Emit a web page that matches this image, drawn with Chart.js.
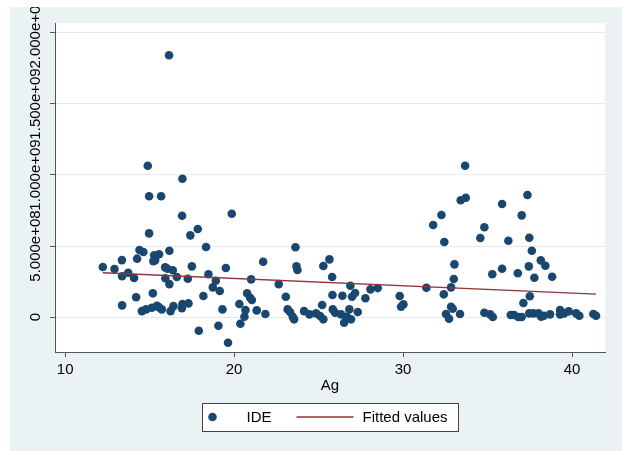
<!DOCTYPE html>
<html>
<head>
<meta charset="utf-8">
<script src="https://cdn.jsdelivr.net/npm/chart.js@4.4.1/dist/chart.umd.min.js"></script>
<style>
  html, body { margin: 0; padding: 0; background: #fff; }
  #wrap { width: 622px; height: 451px; }
</style>
</head>
<body>
<div id="wrap"><canvas id="chart" width="622" height="451"></canvas></div>
<script>
// Ag (x) and IDE (y) for each observation
const ageVals = [
  16.15, 14.89, 16.94, 14.97, 15.68, 19.86, 16.92, 14.97, 17.85, 17.41,
  18.34, 23.63, 14.40, 14.63, 16.17, 15.27, 15.56, 15.33, 15.22, 13.36,
  14.26, 12.23, 12.92, 13.73, 13.37, 14.08, 15.92, 16.05, 16.37, 17.50,
  15.93, 16.61, 17.26, 16.17, 18.48, 19.51, 18.92, 18.74, 19.15, 18.18,
  21.72, 23.69, 23.75, 21.01, 22.64, 25.64, 25.28, 25.80, 15.19, 14.20,
  13.37, 14.54, 14.79, 15.13, 15.43, 15.55, 15.72, 16.24, 16.41, 16.91,
  16.94, 17.30, 19.31, 19.07, 17.91, 20.37, 19.64, 20.31, 20.67, 20.61,
  20.77, 21.05, 20.95, 21.34, 21.85, 23.06, 23.17, 23.31, 23.47, 23.55,
  24.14, 24.46, 24.85, 25.09, 25.28, 25.21, 25.82, 25.84, 25.98, 26.33,
  26.51, 26.67, 26.82, 26.92, 27.32, 26.41, 26.88, 26.98, 27.16, 27.77,
  28.07, 28.50,
  33.67, 33.41, 33.71, 37.36, 35.86, 32.27, 37.02, 31.78, 34.81, 34.57,
  37.47, 32.44, 36.23, 37.62, 38.15, 38.42, 33.04, 37.44, 35.86, 35.28,
  36.79, 37.77, 38.82, 33.00, 32.84, 31.38, 32.41, 37.50, 37.12, 29.80,
  30.02, 29.88, 32.84, 32.94, 32.54, 32.72, 33.37, 34.81, 35.15, 35.31,
  36.37, 36.57, 36.82, 37.02, 37.47, 37.71, 38.01, 38.17, 38.33, 38.70,
  39.29, 39.29, 39.53, 39.80, 40.24, 40.43, 41.26, 41.42
];
const ideVals = [
  18.43e8, 10.65e8, 9.74e8, 8.50e8, 8.50e8, 7.27e8, 7.13e8, 5.89e8, 6.20e8, 5.75e8,
  4.93e8, 4.91e8, 4.72e8, 4.58e8, 4.67e8, 4.35e8, 4.42e8, 4.01e8, 3.94e8, 4.01e8,
  4.11e8, 3.52e8, 3.38e8, 3.12e8, 2.87e8, 2.75e8, 3.50e8, 3.40e8, 3.29e8, 3.57e8,
  2.73e8, 2.82e8, 2.70e8, 2.32e8, 3.01e8, 3.45e8, 2.56e8, 2.09e8, 1.83e8, 1.48e8,
  3.89e8, 3.57e8, 3.31e8, 2.65e8, 2.32e8, 4.06e8, 3.59e8, 2.82e8, 1.67e8, 1.39e8,
  0.82e8, 0.42e8, 0.54e8, 0.66e8, 0.80e8, 0.70e8, 0.54e8, 0.42e8, 0.77e8, 0.63e8,
  0.92e8, 0.96e8, 0.54e8, -0.61e8, -0.96e8, -0.47e8, -1.81e8, 0.92e8, 0.49e8, 0.02e8,
  1.67e8, 1.20e8, 1.36e8, 0.47e8, 0.21e8, 1.43e8, 0.54e8, 0.35e8, 0.02e8, -0.16e8,
  0.42e8, 0.19e8, 0.26e8, 0.07e8, -0.16e8, 0.85e8, 1.55e8, 0.54e8, 0.30e8, 0.19e8,
  -0.40e8, 0.02e8, 0.54e8, -0.16e8, 0.35e8, 1.50e8, 2.20e8, 1.43e8, 1.69e8, 1.32e8,
  1.95e8, 2.04e8,
  10.65e8, 8.22e8, 8.40e8, 8.59e8, 7.96e8, 7.18e8, 7.16e8, 6.48e8, 6.32e8, 5.56e8,
  5.58e8, 5.28e8, 5.37e8, 4.67e8, 3.99e8, 3.61e8, 3.71e8, 3.57e8, 3.40e8, 3.01e8,
  3.08e8, 2.77e8, 2.84e8, 2.68e8, 2.09e8, 2.06e8, 1.60e8, 1.46e8, 0.99e8, 1.48e8,
  0.89e8, 0.73e8, 0.73e8, 0.58e8, 0.21e8, -0.12e8, 0.21e8, 0.30e8, 0.19e8, 0.00e8,
  0.14e8, 0.14e8, 0.00e8, 0.00e8, 0.26e8, 0.26e8, 0.26e8, 0.02e8, 0.09e8, 0.19e8,
  0.49e8, 0.19e8, 0.26e8, 0.40e8, 0.26e8, 0.09e8, 0.21e8, 0.09e8
];
// linear fit end points
const fitAge = [12.23, 41.42];
const fitVals = [3.12e8, 1.62e8];

const xTicks = [10, 20, 30, 40];
const yTicks = [0, 5e8, 1e9, 1.5e9, 2e9];
const yTickLabels = ["0", "5.000e+08", "1.000e+09", "1.500e+09", "2.000e+09"];
const seriesNames = ["IDE", "Fitted values"];

const FONT = "'Liberation Sans', Arial, sans-serif";
const navy = "#1a476f";
const maroon = "#90353b";
const axisColor = "#555555";

const scatterData = ageVals.map((x, i) => ({ x: x, y: ideVals[i] }));
const fitData = fitAge.map((x, i) => ({ x: x, y: fitVals[i] }));

// backgrounds: white page, bluish gray graph region, white plot region
const bgPlugin = {
  id: "bg",
  beforeDraw(chart) {
    const ctx = chart.ctx;
    const ca = chart.chartArea;
    ctx.save();
    ctx.fillStyle = "#ffffff";
    ctx.fillRect(0, 0, chart.width, chart.height);
    ctx.fillStyle = "#eaf2f3";
    ctx.fillRect(10, 7, chart.width - 10, chart.height - 7);
    ctx.fillStyle = "#ffffff";
    ctx.fillRect(ca.left, ca.top, ca.right - ca.left, ca.bottom - ca.top);
    ctx.restore();
  }
};

// vertical y tick labels (Stata style) and the boxed legend
const extrasPlugin = {
  id: "extras",
  afterDraw(chart) {
    const ctx = chart.ctx;
    const yScale = chart.scales.y;
    ctx.save();
    ctx.beginPath();
    ctx.rect(10, 7, chart.width - 10, chart.height - 7);
    ctx.clip();
    ctx.fillStyle = "#000";
    ctx.font = "15px " + FONT;
    ctx.textAlign = "center";
    ctx.textBaseline = "middle";
    yTicks.forEach((v, i) => {
      const py = yScale.getPixelForValue(v);
      ctx.save();
      ctx.translate(36, py);
      ctx.rotate(-Math.PI / 2);
      ctx.fillText(yTickLabels[i], 0, 0);
      ctx.restore();
    });
    ctx.restore();

    // legend
    const ds = chart.data.datasets;
    const cx = (chart.chartArea.left + chart.chartArea.right) / 2;
    const boxW = 256, boxH = 28, boxTop = 403;
    const boxLeft = Math.round(cx - boxW / 2) + 0.5;
    const midY = boxTop + boxH / 2;
    ctx.save();
    ctx.fillStyle = "#fff";
    ctx.strokeStyle = "#444";
    ctx.lineWidth = 1;
    ctx.fillRect(boxLeft, boxTop + 0.5, boxW, boxH);
    ctx.strokeRect(boxLeft, boxTop + 0.5, boxW, boxH);
    ctx.fillStyle = ds[1].backgroundColor;
    ctx.beginPath();
    ctx.arc(boxLeft + 10, midY, 4.3, 0, Math.PI * 2);
    ctx.fill();
    ctx.fillStyle = "#000";
    ctx.font = "15px " + FONT;
    ctx.textAlign = "left";
    ctx.textBaseline = "middle";
    ctx.fillText(seriesNames[0], boxLeft + 44, midY + 1);
    ctx.strokeStyle = ds[0].borderColor;
    ctx.lineWidth = 1.3;
    ctx.beginPath();
    ctx.moveTo(boxLeft + 94, midY);
    ctx.lineTo(boxLeft + 151, midY);
    ctx.stroke();
    ctx.fillText(seriesNames[1], boxLeft + 160, midY + 1);
    ctx.restore();
  }
};

new Chart(document.getElementById("chart"), {
  type: "scatter",
  data: {
    datasets: [
      {
        type: "line",
        label: seriesNames[1],
        data: fitData,
        borderColor: maroon,
        borderWidth: 1.3,
        pointRadius: 0,
        fill: false
      },
      {
        label: seriesNames[0],
        data: scatterData,
        backgroundColor: navy,
        borderColor: navy,
        borderWidth: 0,
        pointRadius: 4.3,
        pointHoverRadius: 4.3
      }
    ]
  },
  options: {
    responsive: false,
    animation: false,
    layout: { padding: { left: 10, top: 23, right: 17, bottom: 56 } },
    plugins: {
      legend: { display: false },
      tooltip: { enabled: false }
    },
    scales: {
      x: {
        type: "linear",
        min: 9.4,
        max: 41.95,
        afterBuildTicks: s => { s.ticks = xTicks.map(v => ({ value: v })); },
        afterFit: s => { s.height = 43; },
        grid: { drawOnChartArea: false, drawTicks: true, tickLength: 5, tickColor: axisColor },
        border: { color: axisColor, width: 1 },
        ticks: {
          color: "#000",
          font: { family: FONT, size: 15 },
          padding: 4,
          maxRotation: 0,
          autoSkip: false
        },
        title: {
          display: true,
          text: "Ag",
          color: "#000",
          font: { family: FONT, size: 15 },
          padding: 0
        }
      },
      y: {
        type: "linear",
        min: -2.46e8,
        max: 2.07e9,
        afterBuildTicks: s => { s.ticks = yTicks.map(v => ({ value: v })); },
        afterFit: s => { s.width = 45; },
        grid: { color: "#e2ecef", lineWidth: 1, drawTicks: true, tickLength: 5, tickColor: axisColor },
        border: { color: axisColor, width: 1 },
        ticks: { display: false }
      }
    }
  },
  plugins: [bgPlugin, extrasPlugin]
});
</script>
</body>
</html>
